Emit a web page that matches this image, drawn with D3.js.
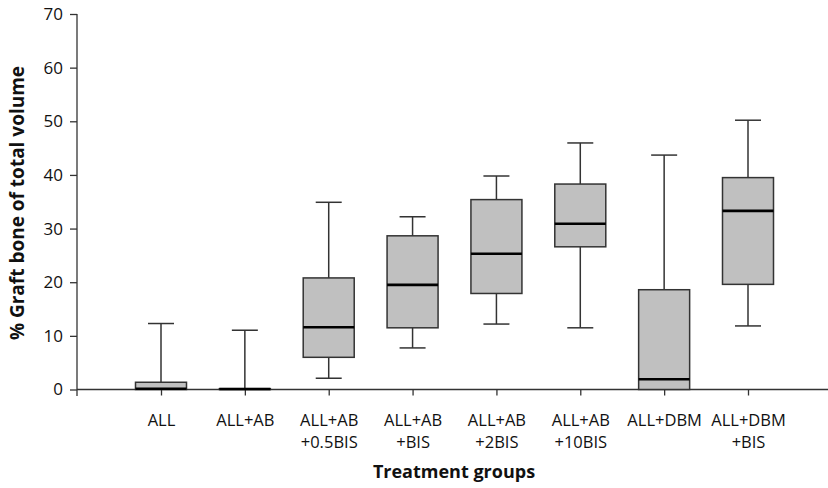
<!DOCTYPE html>
<html><head><meta charset="utf-8">
<script src="https://cdn.jsdelivr.net/npm/d3@7"></script>
<style>body{margin:0;background:#fff}svg{display:block}text{font-family:"Open Sans",sans-serif}</style>
</head><body>
<svg id="c" width="828" height="488"></svg>
<script>
const categories = [["ALL"],["ALL+AB"],["ALL+AB","+0.5BIS"],["ALL+AB","+BIS"],["ALL+AB","+2BIS"],["ALL+AB","+10BIS"],["ALL+DBM"],["ALL+DBM","+BIS"]];
const whiskerLow  = [0, 0, 2.1, 7.75, 12.2, 11.5, 0, 11.85];
const q1          = [0, 0, 6.0, 11.5, 17.9, 26.6, 0, 19.6];
const medians     = [0.15, 0.1, 11.6, 19.5, 25.3, 30.9, 1.9, 33.3];
const q3          = [1.35, 0.15, 20.8, 28.65, 35.4, 38.3, 18.6, 39.5];
const whiskerHigh = [12.3, 11.05, 34.9, 32.2, 39.8, 45.96, 43.7, 50.2];
const yTicks = [0,10,20,30,40,50,60,70];

const svg = d3.select("#c");
const keys = categories.map((c,i)=>i);
const x = d3.scalePoint().domain(keys).range([161, 748]);
const y = d3.scaleLinear().domain([0,70]).range([389.5, 14]);
const stroke = "#333";

// y axis
const ya = svg.append("g").attr("transform","translate(77,0)")
  .call(d3.axisLeft(y).tickValues(yTicks).tickSize(7).tickPadding(7).tickFormat(d3.format("d")));
ya.select(".domain").remove();
ya.selectAll("line").attr("stroke",stroke).attr("stroke-width",1.3);
ya.selectAll("text").attr("font-size",17).attr("fill","#111");
svg.append("line").attr("x1",77).attr("x2",77).attr("y1",y(70)).attr("y2",396).attr("stroke",stroke).attr("stroke-width",1.3);

// x axis
const xa = svg.append("g").attr("transform",`translate(0,${y(0)})`)
  .call(d3.axisBottom(x).tickSize(6).tickFormat(""));
xa.select(".domain").remove();
xa.selectAll("line").attr("stroke",stroke).attr("stroke-width",1.3);
svg.append("line").attr("x1",77).attr("x2",828).attr("y1",y(0)).attr("y2",y(0)).attr("stroke",stroke).attr("stroke-width",1.3);
xa.selectAll(".tick").each(function(d){
  const t = d3.select(this).append("text").attr("text-anchor","middle").attr("font-size",16.5).attr("fill","#111");
  categories[d].forEach((s,j)=>t.append("tspan").attr("x",0).attr("y",36+j*22).text(s));
});

// boxes
const bw = 51, cw = 26;
const g = svg.append("g");
keys.forEach(i=>{
  const cx = x(i);
  const gg = g.append("g");
  if (whiskerHigh[i] > q3[i]) {
    gg.append("line").attr("x1",cx).attr("x2",cx).attr("y1",y(q3[i])).attr("y2",y(whiskerHigh[i])).attr("stroke",stroke).attr("stroke-width",1.5);
    gg.append("line").attr("x1",cx-cw/2).attr("x2",cx+cw/2).attr("y1",y(whiskerHigh[i])).attr("y2",y(whiskerHigh[i])).attr("stroke",stroke).attr("stroke-width",1.5);
  }
  if (whiskerLow[i] < q1[i]) {
    gg.append("line").attr("x1",cx).attr("x2",cx).attr("y1",y(q1[i])).attr("y2",y(whiskerLow[i])).attr("stroke",stroke).attr("stroke-width",1.5);
    gg.append("line").attr("x1",cx-cw/2).attr("x2",cx+cw/2).attr("y1",y(whiskerLow[i])).attr("y2",y(whiskerLow[i])).attr("stroke",stroke).attr("stroke-width",1.5);
  }
  gg.append("rect").attr("x",cx-bw/2).attr("width",bw).attr("y",y(q3[i])).attr("height",Math.max(0,y(q1[i])-y(q3[i])))
    .attr("fill","#c0c0c0").attr("stroke",stroke).attr("stroke-width",1.5);
  gg.append("line").attr("x1",cx-bw/2).attr("x2",cx+bw/2).attr("y1",y(medians[i])).attr("y2",y(medians[i])).attr("stroke","#000").attr("stroke-width",2.6);
});

// titles
svg.append("text").attr("x",454).attr("y",478).attr("text-anchor","middle").attr("font-size",18).attr("font-weight","bold").attr("fill","#111").text("Treatment groups");
svg.append("text").attr("transform","translate(24,203) rotate(-90)").attr("text-anchor","middle").attr("font-size",19).attr("font-weight","bold").attr("fill","#111").text("% Graft bone of total volume");
</script>
</body></html>
